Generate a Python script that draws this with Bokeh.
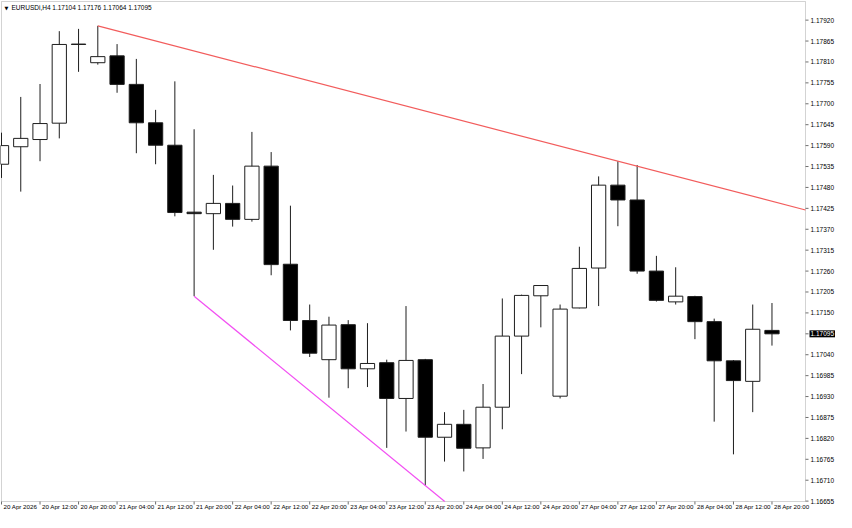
import numpy as np
from bokeh.plotting import figure
from bokeh.models import Range1d, Label, BoxAnnotation
from bokeh.core.properties import value
from bokeh.embed import file_html
from bokeh.resources import INLINE

# ---------------- data ----------------
symbol_title = "EURUSDi,H4"

opens = [1.17541, 1.17587, 1.17606, 1.17649, 1.17857, 1.17808, 1.17826, 1.17751, 1.17650, 1.17591,
         1.17415, 1.17411, 1.17438, 1.17396, 1.17536, 1.17278, 1.17130, 1.17027, 1.17119, 1.17003,
         1.17019, 1.16925, 1.17027, 1.16823, 1.16857, 1.16795, 1.16902, 1.17089, 1.17195, 1.16931,
         1.17163, 1.17268, 1.17486, 1.17447, 1.17260, 1.17179, 1.17193, 1.17127, 1.17024, 1.16970,
         1.17104]
highs = [1.17624, 1.17718, 1.17752, 1.17891, 1.17897, 1.17905, 1.17857, 1.17818, 1.17684, 1.17759,
         1.17633, 1.17513, 1.17485, 1.17626, 1.17573, 1.17432, 1.17172, 1.17140, 1.17131, 1.17123,
         1.17027, 1.17168, 1.17029, 1.16889, 1.16895, 1.16963, 1.17188, 1.17198, 1.17223, 1.17172,
         1.17324, 1.17509, 1.17549, 1.17539, 1.17300, 1.17270, 1.17195, 1.17135, 1.17026, 1.17172,
         1.17176]
lows = [1.17505, 1.17469, 1.17549, 1.17609, 1.17784, 1.17803, 1.17729, 1.17570, 1.17541, 1.17404,
        1.17194, 1.17316, 1.17377, 1.17390, 1.17249, 1.17104, 1.17034, 1.16927, 1.16952, 1.16955,
        1.16795, 1.16838, 1.16696, 1.16759, 1.16733, 1.16766, 1.16844, 1.16989, 1.17112, 1.16925,
        1.17162, 1.17168, 1.17378, 1.17253, 1.17180, 1.17172, 1.17081, 1.16864, 1.16778, 1.16889,
        1.17064]
closes = [1.17590, 1.17609, 1.17648, 1.17856, 1.17856, 1.17824, 1.17751, 1.17650, 1.17591, 1.17414,
          1.17411, 1.17438, 1.17396, 1.17536, 1.17277, 1.17130, 1.17044, 1.17118, 1.17003, 1.17017,
          1.16925, 1.17025, 1.16823, 1.16857, 1.16794, 1.16902, 1.17089, 1.17196, 1.17222, 1.17160,
          1.17267, 1.17486, 1.17447, 1.17260, 1.17183, 1.17194, 1.17127, 1.17024, 1.16972, 1.17107,
          1.17095]

# bar indices of the time labels and the labels themselves
x_tick_bars = [0, 2, 4, 6, 8, 10, 12, 14, 16, 18, 20, 22, 24, 26, 28, 30, 32, 34, 36, 38, 40]
x_tick_labels = ["20 Apr 2026", "20 Apr 12:00", "20 Apr 20:00", "21 Apr 04:00", "21 Apr 12:00",
                 "21 Apr 20:00", "22 Apr 04:00", "22 Apr 12:00", "22 Apr 20:00", "23 Apr 04:00",
                 "23 Apr 12:00", "23 Apr 20:00", "24 Apr 04:00", "24 Apr 12:00", "24 Apr 20:00",
                 "27 Apr 04:00", "27 Apr 12:00", "27 Apr 20:00", "28 Apr 04:00", "28 Apr 12:00",
                 "28 Apr 20:00"]

price_ticks = [1.16655, 1.16710, 1.16765, 1.16820, 1.16875, 1.16930, 1.16985, 1.17040,
               1.17095, 1.17150, 1.17205, 1.17260, 1.17315, 1.17370, 1.17425, 1.17480,
               1.17535, 1.17590, 1.17645, 1.17700, 1.17755, 1.17810, 1.17865, 1.17920]

# trend line anchor bars (resistance through highs, support through lows)
resistance_bars = [5, 32]
support_bars = [10, 22]

# ---------------- layout ----------------
FONT = "Liberation Sans"
FRAME = "#6e6e6e"
CANDLE_LINE = "#1e1e1e"
FW, FH = 836, 512            # whole canvas = plot frame
CL, CR, CT, CB = 1, 805, 1, 501  # chart box in canvas pixels
X0, X1 = 0.0, 41.74          # visible bars in the chart box
Y0, Y1 = 1.16654, 1.17969    # visible prices in the chart box

ppb = (CR - CL) / (X1 - X0)          # pixels per bar
ppu = (CB - CT) / (Y1 - Y0)          # pixels per price unit
x_start = X0 - CL / ppb
x_end = x_start + FW / ppb
y_end = Y1 + CT / ppu
y_start = y_end - FH / ppu

p = figure(width=FW, height=FH, output_backend="svg", toolbar_location=None,
           x_range=Range1d(x_start, x_end), y_range=Range1d(y_start, y_end),
           x_axis_location=None, y_axis_location=None,
           min_border_left=0, min_border_top=0, min_border_right=0, min_border_bottom=0,
           background_fill_color="white", border_fill_color="white")
p.grid.visible = False
p.outline_line_color = None

# chart frame
p.add_layout(BoxAnnotation(left=X0, right=X1, bottom=Y0, top=Y1, fill_color=None,
                           line_color=FRAME, line_width=1, level="underlay"))

# ---------------- candles ----------------
idx = np.arange(len(opens))
o = np.array(opens)
h = np.array(highs)
l = np.array(lows)
c = np.array(closes)
bull = c >= o
bear = ~bull

p.segment(x0=idx, y0=l, x1=idx, y1=h, line_color=CANDLE_LINE, line_width=1)
p.vbar(x=idx[bull], width=0.74, top=c[bull], bottom=o[bull],
       fill_color="white", line_color=CANDLE_LINE, line_width=1)
p.vbar(x=idx[bear], width=0.74, top=o[bear], bottom=c[bear],
       fill_color="black", line_color=CANDLE_LINE, line_width=1)

# ---------------- trend lines (rays clipped to the chart box) ----------------
ra, rb = resistance_bars
r_slope = (h[rb] - h[ra]) / (rb - ra)
p.line(x=[ra, X1], y=[h[ra], h[ra] + r_slope * (X1 - ra)], line_color="#f25c5c", line_width=1.2)

sa, sb = support_bars
s_slope = (l[sb] - l[sa]) / (sb - sa)
s_cross = sa + (Y0 - l[sa]) / s_slope
p.line(x=[sa, s_cross], y=[l[sa], Y0], line_color="#f24ff2", line_width=1.2)

# ---------------- price scale (right) ----------------
pt = np.array(price_ticks)
p.segment(x0=np.full(len(pt), X1), x1=np.full(len(pt), X1 + 3 / ppb), y0=pt, y1=pt,
          line_color=FRAME, line_width=1)
p.text(x=np.full(len(pt), X1 + 5 / ppb), y=pt, text=[f"{t:.5f}" for t in price_ticks],
       text_font=value(FONT), text_font_size=value("6.5px"), text_color="#000000",
       text_align="left", text_baseline="middle")

# ---------------- time scale (bottom) ----------------
tb = np.array(x_tick_bars, dtype=float)
p.segment(x0=tb, x1=tb, y0=np.full(len(tb), Y0), y1=np.full(len(tb), Y0 - 3 / ppu),
          line_color=FRAME, line_width=1)
p.text(x=tb + 2 / ppb, y=np.full(len(tb), Y0 - 1.5 / ppu), text=x_tick_labels,
       text_font=value(FONT), text_font_size=value("6.2px"), text_color="#000000",
       text_align="left", text_baseline="top")

# ---------------- header & current price ----------------
p.add_layout(Label(x=X0, y=Y1, x_offset=3, y_offset=-6, text="\u25bc", text_font="DejaVu Sans",
                   text_font_size="5px", text_baseline="middle", text_color="#000000"))
header = f"{symbol_title}  {opens[-1]:.5f} {highs[-1]:.5f} {lows[-1]:.5f} {closes[-1]:.5f}"
p.add_layout(Label(x=X0, y=Y1, x_offset=10, y_offset=-6, text=header, text_font=FONT,
                   text_font_size="6.5px", text_baseline="middle", text_color="#000000"))
p.add_layout(Label(x=X1, y=closes[-1], x_offset=4, text=f"{closes[-1]:.5f}", text_font=FONT,
                   text_font_size="6.5px", text_baseline="middle", text_color="white",
                   background_fill_color="black", padding=1))

open("out.html", "w").write(file_html(p, INLINE))
